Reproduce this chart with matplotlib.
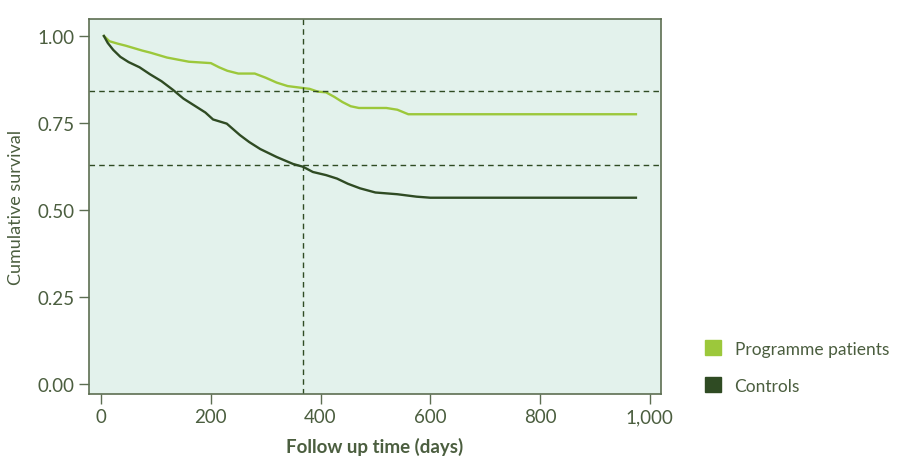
import matplotlib
matplotlib.use('Agg')
import matplotlib.pyplot as plt
from matplotlib.patches import Patch

# Kaplan-Meier style curves
prog_days = [5, 15, 30, 45, 60, 75, 90, 105, 120, 140, 160, 180, 200, 215, 230, 250, 280, 300,
             320, 340, 360, 380, 395, 410, 425, 440, 455, 470, 520, 540, 560, 975]
prog_surv = [1.0, 0.985, 0.978, 0.972, 0.965, 0.958, 0.952, 0.945, 0.938, 0.932, 0.926, 0.924,
             0.922, 0.91, 0.90, 0.892, 0.892, 0.88, 0.866, 0.856, 0.852, 0.848, 0.84, 0.838,
             0.825, 0.81, 0.798, 0.793, 0.793, 0.788, 0.775, 0.775]

ctrl_days = [5, 12, 22, 35, 50, 70, 89, 110, 131, 150, 170, 190, 204, 229, 253, 270, 290, 320,
             350, 368, 386, 410, 430, 450, 472, 500, 540, 575, 600, 975]
ctrl_surv = [1.0, 0.98, 0.96, 0.94, 0.925, 0.91, 0.89, 0.87, 0.845, 0.82, 0.80, 0.78, 0.76,
             0.748, 0.715, 0.695, 0.675, 0.652, 0.632, 0.624, 0.609, 0.60, 0.59, 0.575, 0.562,
             0.55, 0.545, 0.538, 0.535, 0.535]

one_year = 368
prog_at_year = 0.842
ctrl_at_year = 0.629

x_ticks = [0, 200, 400, 600, 800, 1000]
x_tick_labels = ['0', '200', '400', '600', '800', '1,000']
y_ticks = [0.0, 0.25, 0.5, 0.75, 1.0]
y_tick_labels = ['0.00', '0.25', '0.50', '0.75', '1.00']

light = '#9cc83b'
dark = '#2f4b23'
text_col = '#4b5e3f'
spine_col = '#5d6e52'

plt.rcParams['font.family'] = ['Lato', 'DejaVu Sans']

fig = plt.figure(figsize=(9, 4.64), dpi=100)
ax = fig.add_axes([0.099, 0.149, 0.635, 0.808])
ax.set_facecolor('#e3f2ec')

ax.plot(prog_days, prog_surv, color=light, lw=1.7)
ax.plot(ctrl_days, ctrl_surv, color=dark, lw=1.7)

dash = dict(color=dark, lw=1.0, dashes=(4, 3))
ax.axvline(one_year, **dash)
ax.axhline(prog_at_year, **dash)
ax.axhline(ctrl_at_year, **dash)

ax.set_xlim(-22, 1020)
ax.set_ylim(-0.029, 1.049)
ax.set_xticks(x_ticks)
ax.set_xticklabels(x_tick_labels)
ax.set_yticks(y_ticks)
ax.set_yticklabels(y_tick_labels)
ax.tick_params(colors=spine_col, labelcolor=text_col, labelsize=13.5, length=7, width=1)
for s in ax.spines.values():
    s.set_color(spine_col)
    s.set_linewidth(1.2)

ax.set_xlabel('Follow up time (days)', color=text_col, fontsize=13.5, fontweight='bold', labelpad=8)
ax.set_ylabel('Cumulative survival', color=text_col, fontsize=13, labelpad=10)

handles = [Patch(color=light, label='Programme patients'), Patch(color=dark, label='Controls')]
fig.legend(handles=handles, loc='upper left', bbox_to_anchor=(0.766, 0.298), frameon=False,
           fontsize=12.5, labelcolor=text_col, handlelength=0.9, handleheight=0.9,
           handletextpad=0.8, labelspacing=1.2)

fig.savefig('out.png', dpi=100)
